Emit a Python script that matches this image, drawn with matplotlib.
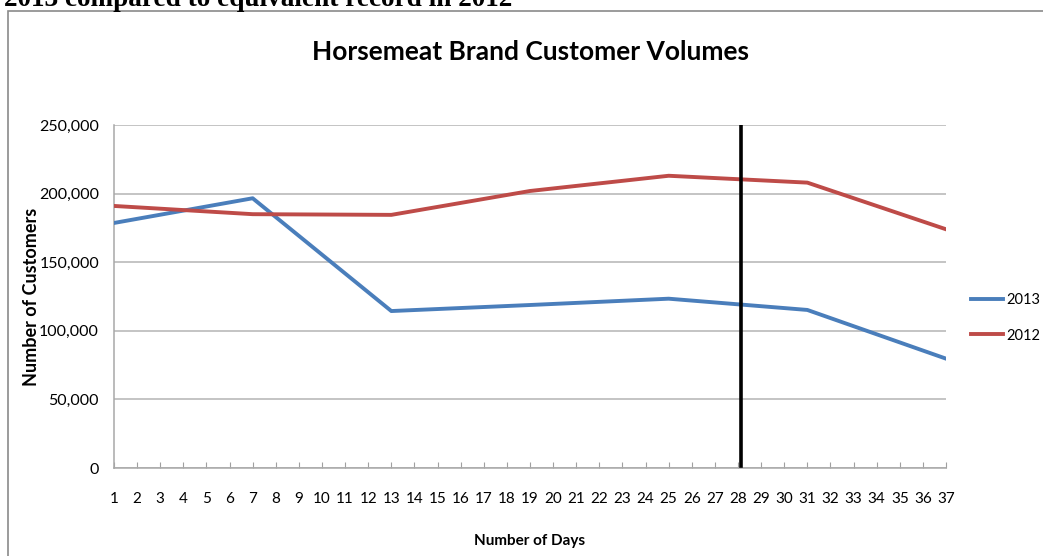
import matplotlib
matplotlib.use("Agg")
import matplotlib.pyplot as plt
from matplotlib.patches import Rectangle
from matplotlib.lines import Line2D

# ---- data ----
days = [1, 7, 13, 19, 25, 31, 37]
vol_2013 = [178600, 196600, 114400, 118800, 123400, 115200, 79700]
vol_2012 = [191000, 185000, 184500, 201900, 213000, 208000, 174000]
x_ticks = list(range(1, 38))
y_ticks = [0, 50000, 100000, 150000, 200000, 250000]
y_tick_labels = ["0", "50,000", "100,000", "150,000", "200,000", "250,000"]
marker_day = 28.15
title = "Horsemeat Brand Customer Volumes"
caption = "2013 compared to equivalent record in 2012"

W, H = 1043, 556
fig = plt.figure(figsize=(W / 100, H / 100), dpi=100)
FONT = "Lato"

# outer border box (extends beyond figure on right/bottom)
fig.patches.append(Rectangle((8 / W, -0.1), 1.2, 1 - 11 / H + 0.1,
                             transform=fig.transFigure, fill=False,
                             edgecolor="#8a8a8a", linewidth=1.2))

# cropped caption at very top
fig.text(4 / W, 1 - 6 / H, caption, family="Liberation Serif", weight="bold",
         fontsize=19.6, va="baseline", ha="left", color="black")

ax = fig.add_axes([114 / W, 88 / H, 832 / W, 343 / H])
ax.set_xlim(1, 37)
ax.set_ylim(0, 250000)

c13 = "#4a7ebb"
c12 = "#be4b48"
ax.plot(days, vol_2013, color=c13, lw=2.8, solid_joinstyle="round", zorder=3)
ax.plot(days, vol_2012, color=c12, lw=2.8, solid_joinstyle="round", zorder=3)

ax.axvline(marker_day, ymin=(468 - 466) / 343, ymax=(468 - 122) / 343,
           color="black", lw=2.6, zorder=4)

ax.set_yticks(y_ticks)
ax.set_yticklabels(y_tick_labels, family=FONT, fontsize=11.5)
ax.set_xticks(x_ticks)
ax.set_xticklabels([str(d) for d in x_ticks], family=FONT, fontsize=11)
ax.tick_params(axis="y", length=0, pad=10.8)
ax.tick_params(axis="x", direction="in", length=4, color="#a0a0a0", pad=17.5)
ax.yaxis.grid(True, color="#b4b4b4", lw=1.1)
ax.set_axisbelow(True)
for s in ["top", "right"]:
    ax.spines[s].set_visible(False)
for s in ["left", "bottom"]:
    ax.spines[s].set_color("#a8a8a8")
    ax.spines[s].set_linewidth(1.1)

fig.text(530 / W, 1 - 52 / H, title, family=FONT, weight="bold",
         fontsize=19, ha="center", va="center")
fig.text(530 / W, 1 - 541 / H, "Number of Days", family=FONT, weight="bold",
         fontsize=11, ha="center", va="center")
fig.text(32 / W, 1 - 297 / H, "Number of Customers", family=FONT,
         weight="bold", fontsize=13, ha="center", va="center", rotation=90)

handles = [Line2D([], [], color=c13, lw=2.8), Line2D([], [], color=c12, lw=2.8)]
leg = fig.legend(handles, ["2013", "2012"], loc="center left",
                 bbox_to_anchor=(971 / W, 1 - 318 / H), frameon=False,
                 prop={"family": FONT, "size": 10.5}, handlelength=2.2,
                 handletextpad=0.2, labelspacing=1.45, borderpad=0,
                 borderaxespad=0)

fig.savefig("out.png", dpi=100)
